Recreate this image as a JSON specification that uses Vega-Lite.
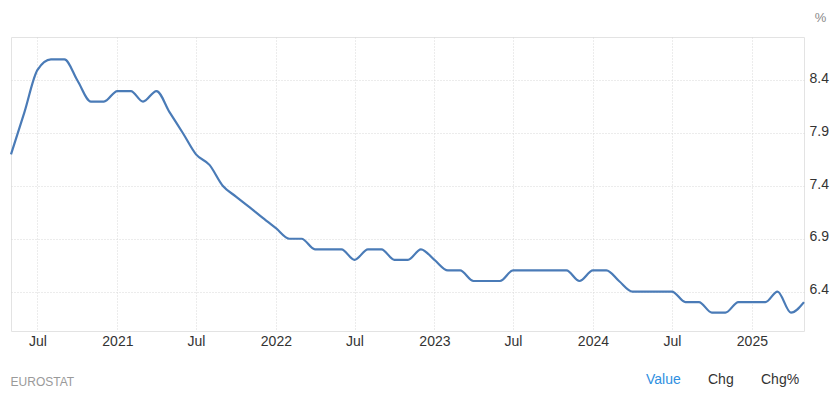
{
  "$schema": "https://vega.github.io/schema/vega-lite/v6.json",
  "autosize": "none",
  "width": 793,
  "height": 294,
  "padding": {"left": 11, "top": 37, "right": 35, "bottom": 63},
  "background": "#ffffff",
  "config": {
    "font": "Liberation Sans",
    "view": {"stroke": "#e3e3e3", "strokeWidth": 1}
  },
  "title": {
    "text": "EUROSTAT",
    "orient": "bottom",
    "anchor": "start",
    "fontSize": 12,
    "fontWeight": "normal",
    "color": "#9a9a9a",
    "offset": 0,
    "dy": -10,
    "dx": 4
  },
  "data": {
    "values": [
      {"date": "2020/05/01", "value": 7.7, "series": "Value"},
      {"date": "2020/06/01", "value": 8.1, "series": "Value"},
      {"date": "2020/07/01", "value": 8.5, "series": "Value"},
      {"date": "2020/08/01", "value": 8.6, "series": "Value"},
      {"date": "2020/09/01", "value": 8.6, "series": "Value"},
      {"date": "2020/10/01", "value": 8.4, "series": "Value"},
      {"date": "2020/11/01", "value": 8.2, "series": "Value"},
      {"date": "2020/12/01", "value": 8.2, "series": "Value"},
      {"date": "2021/01/01", "value": 8.3, "series": "Value"},
      {"date": "2021/02/01", "value": 8.3, "series": "Value"},
      {"date": "2021/03/01", "value": 8.2, "series": "Value"},
      {"date": "2021/04/01", "value": 8.3, "series": "Value"},
      {"date": "2021/05/01", "value": 8.1, "series": "Value"},
      {"date": "2021/06/01", "value": 7.9, "series": "Value"},
      {"date": "2021/07/01", "value": 7.7, "series": "Value"},
      {"date": "2021/08/01", "value": 7.6, "series": "Value"},
      {"date": "2021/09/01", "value": 7.4, "series": "Value"},
      {"date": "2021/10/01", "value": 7.3, "series": "Value"},
      {"date": "2021/11/01", "value": 7.2, "series": "Value"},
      {"date": "2021/12/01", "value": 7.1, "series": "Value"},
      {"date": "2022/01/01", "value": 7.0, "series": "Value"},
      {"date": "2022/02/01", "value": 6.9, "series": "Value"},
      {"date": "2022/03/01", "value": 6.9, "series": "Value"},
      {"date": "2022/04/01", "value": 6.8, "series": "Value"},
      {"date": "2022/05/01", "value": 6.8, "series": "Value"},
      {"date": "2022/06/01", "value": 6.8, "series": "Value"},
      {"date": "2022/07/01", "value": 6.7, "series": "Value"},
      {"date": "2022/08/01", "value": 6.8, "series": "Value"},
      {"date": "2022/09/01", "value": 6.8, "series": "Value"},
      {"date": "2022/10/01", "value": 6.7, "series": "Value"},
      {"date": "2022/11/01", "value": 6.7, "series": "Value"},
      {"date": "2022/12/01", "value": 6.8, "series": "Value"},
      {"date": "2023/01/01", "value": 6.7, "series": "Value"},
      {"date": "2023/02/01", "value": 6.6, "series": "Value"},
      {"date": "2023/03/01", "value": 6.6, "series": "Value"},
      {"date": "2023/04/01", "value": 6.5, "series": "Value"},
      {"date": "2023/05/01", "value": 6.5, "series": "Value"},
      {"date": "2023/06/01", "value": 6.5, "series": "Value"},
      {"date": "2023/07/01", "value": 6.6, "series": "Value"},
      {"date": "2023/08/01", "value": 6.6, "series": "Value"},
      {"date": "2023/09/01", "value": 6.6, "series": "Value"},
      {"date": "2023/10/01", "value": 6.6, "series": "Value"},
      {"date": "2023/11/01", "value": 6.6, "series": "Value"},
      {"date": "2023/12/01", "value": 6.5, "series": "Value"},
      {"date": "2024/01/01", "value": 6.6, "series": "Value"},
      {"date": "2024/02/01", "value": 6.6, "series": "Value"},
      {"date": "2024/03/01", "value": 6.5, "series": "Value"},
      {"date": "2024/04/01", "value": 6.4, "series": "Value"},
      {"date": "2024/05/01", "value": 6.4, "series": "Value"},
      {"date": "2024/06/01", "value": 6.4, "series": "Value"},
      {"date": "2024/07/01", "value": 6.4, "series": "Value"},
      {"date": "2024/08/01", "value": 6.3, "series": "Value"},
      {"date": "2024/09/01", "value": 6.3, "series": "Value"},
      {"date": "2024/10/01", "value": 6.2, "series": "Value"},
      {"date": "2024/11/01", "value": 6.2, "series": "Value"},
      {"date": "2024/12/01", "value": 6.3, "series": "Value"},
      {"date": "2025/01/01", "value": 6.3, "series": "Value"},
      {"date": "2025/02/01", "value": 6.3, "series": "Value"},
      {"date": "2025/03/01", "value": 6.4, "series": "Value"},
      {"date": "2025/04/01", "value": 6.2, "series": "Value"},
      {"date": "2025/05/01", "value": 6.3, "series": "Value"}
    ]
  },
  "mark": {"type": "line", "interpolate": "monotone", "strokeWidth": 2.2, "clip": false},
  "encoding": {
    "x": {
      "field": "date",
      "type": "temporal",
      "scale": {
        "domain": [
          {"year": 2020, "month": 5, "date": 1},
          {"year": 2025, "month": 5, "date": 1}
        ],
        "nice": false,
        "padding": 0
      },
      "axis": {
        "title": null,
        "values": [
          {"year": 2020, "month": 7, "date": 1},
          {"year": 2021, "month": 1, "date": 1},
          {"year": 2021, "month": 7, "date": 1},
          {"year": 2022, "month": 1, "date": 1},
          {"year": 2022, "month": 7, "date": 1},
          {"year": 2023, "month": 1, "date": 1},
          {"year": 2023, "month": 7, "date": 1},
          {"year": 2024, "month": 1, "date": 1},
          {"year": 2024, "month": 7, "date": 1},
          {"year": 2025, "month": 1, "date": 1}
        ],
        "labelExpr": "month(datum.value) == 0 ? timeFormat(datum.value, '%Y') : 'Jul'",
        "labelFontSize": 14,
        "labelColor": "#333333",
        "labelPadding": 3,
        "labelFlush": false,
        "labelOverlap": false,
        "ticks": false,
        "domain": false,
        "grid": true,
        "gridColor": "#d9d9d9",
        "gridDash": [1, 2],
        "gridWidth": 1
      }
    },
    "y": {
      "field": "value",
      "type": "quantitative",
      "scale": {"domain": [6.026, 8.812], "nice": false, "zero": false},
      "axis": {
        "orient": "right",
        "values": [6.4, 6.9, 7.4, 7.9, 8.4],
        "format": ".1f",
        "title": "%",
        "titleAngle": 0,
        "titleX": 16,
        "titleY": -20,
        "titleAlign": "center",
        "titleBaseline": "middle",
        "titleFontSize": 13,
        "titleFontWeight": "normal",
        "titleColor": "#8a8a8a",
        "labelFontSize": 14,
        "labelColor": "#333333",
        "labelPadding": 5,
        "labelOffset": -2,
        "ticks": false,
        "domain": false,
        "grid": true,
        "gridColor": "#d9d9d9",
        "gridDash": [1, 2],
        "gridWidth": 1
      }
    },
    "color": {
      "field": "series",
      "type": "nominal",
      "scale": {"domain": ["Value", "Chg", "Chg%"], "range": ["#4a7bb7", "#333333", "#333333"]},
      "legend": {
        "title": null,
        "orient": "none",
        "direction": "horizontal",
        "legendX": 621,
        "legendY": 336,
        "symbolSize": 0,
        "symbolStrokeWidth": 0,
        "symbolOpacity": 0,
        "labelOffset": 0,
        "labelFontSize": 14,
        "labelColor": {"expr": "datum.label == 'Value' ? '#2f8fdf' : '#333333'"},
        "columnPadding": 13
      }
    }
  }
}
